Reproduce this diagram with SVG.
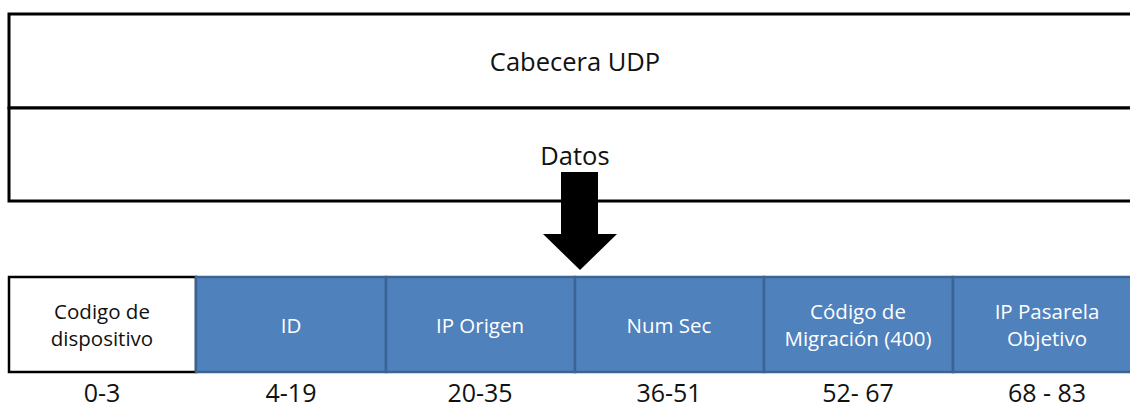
<svg xmlns="http://www.w3.org/2000/svg" width="1130" height="409" viewBox="0 0 1130 409">
  <style>
    .frame { fill: #ffffff; stroke: #000000; stroke-width: 3; }
    .field { fill: #4F81BD; stroke: #3B6494; stroke-width: 2.5; }
    .plain { fill: #ffffff; stroke: #000000; stroke-width: 2.5; }
    .t { font-family: "Open Sans", "Noto Sans", sans-serif; text-anchor: middle; }
    .dark { fill: #111111; font-size: 25.5px; }
    .light { fill: #ffffff; font-size: 20.5px; }
    .blk { fill: #111111; font-size: 20.5px; }
    .num { fill: #111111; font-size: 25px; }
  </style>

  <!-- UDP datagram: header and payload -->
  <g id="udp-header">
    <rect class="frame" x="9" y="14" width="1140" height="94"/>
    <text class="t dark" x="575" y="71">Cabecera UDP</text>
  </g>
  <g id="udp-data">
    <rect class="frame" x="9" y="108" width="1140" height="93"/>
    <text class="t dark" x="575" y="165">Datos</text>
  </g>

  <!-- expansion arrow from payload to field layout -->
  <g id="connectors">
    <polygon points="561,172 598,172 598,234 617,234 580,270 543,234 561,234" fill="#000000"/>
  </g>

  <!-- payload fields -->
  <g id="field-device">
    <rect class="plain" x="9" y="277" width="187" height="95"/>
    <text class="t blk" x="102" y="319">Codigo de</text>
    <text class="t blk" x="102" y="346">dispositivo</text>
  </g>
  <g id="field-id">
    <rect class="field" x="196" y="277" width="190" height="95"/>
    <text class="t light" x="291" y="333">ID</text>
  </g>
  <g id="field-ip-origen">
    <rect class="field" x="386" y="277" width="189" height="95"/>
    <text class="t light" x="480" y="333">IP Origen</text>
  </g>
  <g id="field-num-sec">
    <rect class="field" x="575" y="277" width="189" height="95"/>
    <text class="t light" x="669" y="333">Num Sec</text>
  </g>
  <g id="field-migracion">
    <rect class="field" x="764" y="277" width="189" height="95"/>
    <text class="t light" x="858" y="319">Código de</text>
    <text class="t light" x="858" y="346">Migración (400)</text>
  </g>
  <g id="field-pasarela">
    <rect class="field" x="953" y="277" width="190" height="95"/>
    <text class="t light" x="1047" y="319">IP Pasarela</text>
    <text class="t light" x="1047" y="346">Objetivo</text>
  </g>

  <!-- bit ranges -->
  <g id="bit-ranges">
    <text class="t num" x="102" y="402">0-3</text>
    <text class="t num" x="291" y="402">4-19</text>
    <text class="t num" x="480" y="402">20-35</text>
    <text class="t num" x="669" y="402">36-51</text>
    <text class="t num" x="858" y="402">52- 67</text>
    <text class="t num" x="1047" y="402">68 - 83</text>
  </g>
</svg>
